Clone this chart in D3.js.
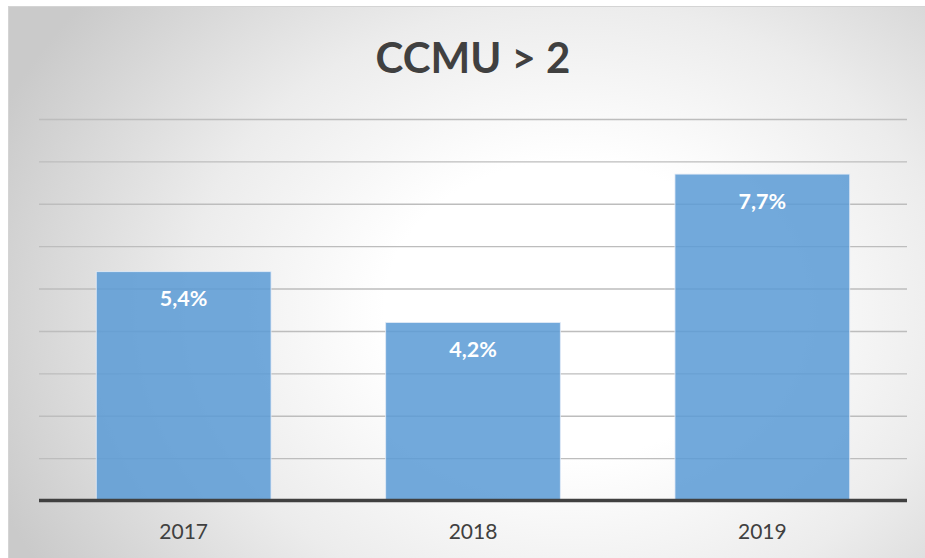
<!DOCTYPE html>
<html>
<head>
<meta charset="utf-8">
<script src="https://cdn.jsdelivr.net/npm/d3@7"></script>
<style>
  html, body { margin: 0; padding: 0; background: #ffffff; }
  svg { display: block; }
</style>
</head>
<body>
<svg id="chart" width="925" height="558"></svg>
<script>
const title = "CCMU > 2";
const categories = ["2017", "2018", "2019"];
const values = [5.4, 4.2, 7.7];
const labels = ["5,4%", "4,2%", "7,7%"];
const yTicks = [1, 2, 3, 4, 5, 6, 7, 8, 9];

const W = 925, H = 558;
const svg = d3.select("#chart");
const defs = svg.append("defs");
const grad = defs.append("radialGradient")
  .attr("id", "bg")
  .attr("gradientUnits", "userSpaceOnUse")
  .attr("cx", 570).attr("cy", 310).attr("r", 620)
  .attr("gradientTransform", "translate(570,310) scale(1,0.8) translate(-570,-310)");
grad.append("stop").attr("offset", "0").attr("stop-color", "#ffffff");
grad.append("stop").attr("offset", "0.3").attr("stop-color", "#ffffff");
grad.append("stop").attr("offset", "0.62").attr("stop-color", "#ececec");
grad.append("stop").attr("offset", "1").attr("stop-color", "#cacaca");

svg.append("rect")
  .attr("x", 8.5).attr("y", 6.5).attr("width", W).attr("height", H)
  .attr("fill", "url(#bg)")
  .attr("stroke", "#d4d4d4").attr("stroke-width", 1);

const plot = { left: 39, right: 907, top: 119, bottom: 500.5 };

const x = d3.scaleBand().domain(categories)
  .range([plot.left, plot.right]).paddingInner(0.396).paddingOuter(0.198);
const y = d3.scaleLinear().domain([0, 9]).range([plot.bottom, plot.top]);

// gridlines
const grid = svg.append("g")
  .attr("transform", `translate(${plot.left},0)`)
  .call(d3.axisLeft(y).tickValues(yTicks).tickSize(-(plot.right - plot.left)).tickFormat(""));
grid.select(".domain").remove();
grid.selectAll(".tick line").attr("stroke", "#bdbdbd").attr("stroke-width", 1.4);

// bars
svg.append("g").selectAll("rect").data(values).join("rect")
  .attr("x", (d, i) => x(categories[i]))
  .attr("width", x.bandwidth())
  .attr("y", d => y(d))
  .attr("height", d => y(0) - y(d))
  .attr("fill", "#5b9bd5")
  .attr("fill-opacity", 0.86)
  .attr("stroke", "#e6eef8")
  .attr("stroke-width", 1)
  .attr("stroke-opacity", 0.8);

// baseline axis
svg.append("line")
  .attr("x1", plot.left).attr("x2", plot.right)
  .attr("y1", y(0)).attr("y2", y(0))
  .attr("stroke", "#404040").attr("stroke-width", 3.5);

// category labels
svg.append("g").selectAll("text").data(categories).join("text")
  .attr("x", d => x(d) + x.bandwidth() / 2)
  .attr("y", 539.3)
  .attr("text-anchor", "middle")
  .attr("font-family", "Lato, 'Open Sans', sans-serif")
  .attr("font-size", 21)
  .attr("fill", "#404040")
  .text(d => d);

// value labels
svg.append("g").selectAll("text").data(values).join("text")
  .attr("x", (d, i) => x(categories[i]) + x.bandwidth() / 2)
  .attr("y", d => y(d) + 34.8)
  .attr("text-anchor", "middle")
  .attr("font-family", "Lato, 'Open Sans', sans-serif")
  .attr("font-weight", "bold")
  .attr("font-size", 21.5)
  .attr("fill", "#ffffff")
  .text((d, i) => labels[i]);

// title
svg.append("text")
  .attr("x", 473).attr("y", 72.7)
  .attr("text-anchor", "middle")
  .attr("font-family", "Lato, 'Open Sans', sans-serif")
  .attr("font-weight", "bold")
  .attr("font-size", 42)
  .attr("fill", "#404040")
  .text(title);
</script>
</body>
</html>
